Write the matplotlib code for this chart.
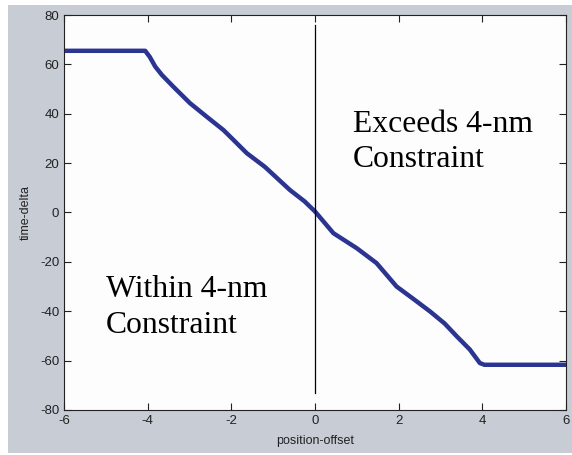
import matplotlib
matplotlib.use("Agg")
import matplotlib.pyplot as plt
from matplotlib.patches import Rectangle

plt.rcParams["axes.unicode_minus"] = False
plt.rcParams["font.family"] = ["Liberation Sans", "DejaVu Sans"]

# --- curve ---
pos_offset = [-6, -4.06, -3.95, -3.82, -3.66, -3.39, -2.99, -2.59, -2.19, -1.95,
              -1.63, -1.2, -0.6, -0.25, 0.0, 0.44, 1.0, 1.47, 1.95, 2.35,
              2.75, 3.1, 3.39, 3.7, 3.94, 4.05, 6]
time_delta = [65.5, 65.5, 63, 59.1, 55.7, 51, 44.3, 38.8, 33.4, 29.4,
              24.0, 18.5, 9.1, 4.5, 0.4, -8.4, -14.5, -20.5, -30, -35,
              -40.1, -45, -50.2, -55.5, -61, -61.7, -61.7]

divider_x = 0
divider_y = [-73, 76]

xticks = [-6, -4, -2, 0, 2, 4, 6]
yticks = [-80, -60, -40, -20, 0, 20, 40, 60, 80]

fig = plt.figure(figsize=(5.72, 4.55), dpi=100)
fig.patch.set_facecolor("white")
# grey MATLAB-style figure panel
fig.patches.append(Rectangle((8 / 572, 2 / 455), 564 / 572, 448 / 455,
                             transform=fig.transFigure, facecolor="#c8ccd4",
                             edgecolor="none", zorder=-1))

ax = fig.add_axes([0.112, 0.099, 0.8775, 0.868])
ax.set_facecolor("#fdfdfd")

ax.plot(pos_offset, time_delta, color="#2b3591", lw=3.2,
        solid_joinstyle="round", solid_capstyle="butt")
ax.plot([divider_x, divider_x], divider_y, color="black", lw=0.9)

ax.text(0.9, 28.5, "Exceeds 4-nm\nConstraint", family="Liberation Serif",
        fontsize=22.8, va="center", ha="left", linespacing=1.28)
ax.text(-5.0, -38.5, "Within 4-nm\nConstraint", family="Liberation Serif",
        fontsize=22.8, va="center", ha="left", linespacing=1.28)

ax.set_xlim(-6, 6)
ax.set_ylim(-80, 80)
ax.set_xticks(xticks)
ax.set_yticks(yticks)
ax.tick_params(direction="in", top=True, right=True, length=5, width=0.8,
               labelsize=9.5, colors="#222222")
for s in ax.spines.values():
    s.set_linewidth(0.8)
    s.set_color("#222222")

ax.set_xlabel("position-offset", fontsize=9, labelpad=6, color="#222222")
ax.set_ylabel("time-delta", fontsize=9, labelpad=6, color="#222222")

fig.savefig("out.png", dpi=100)
